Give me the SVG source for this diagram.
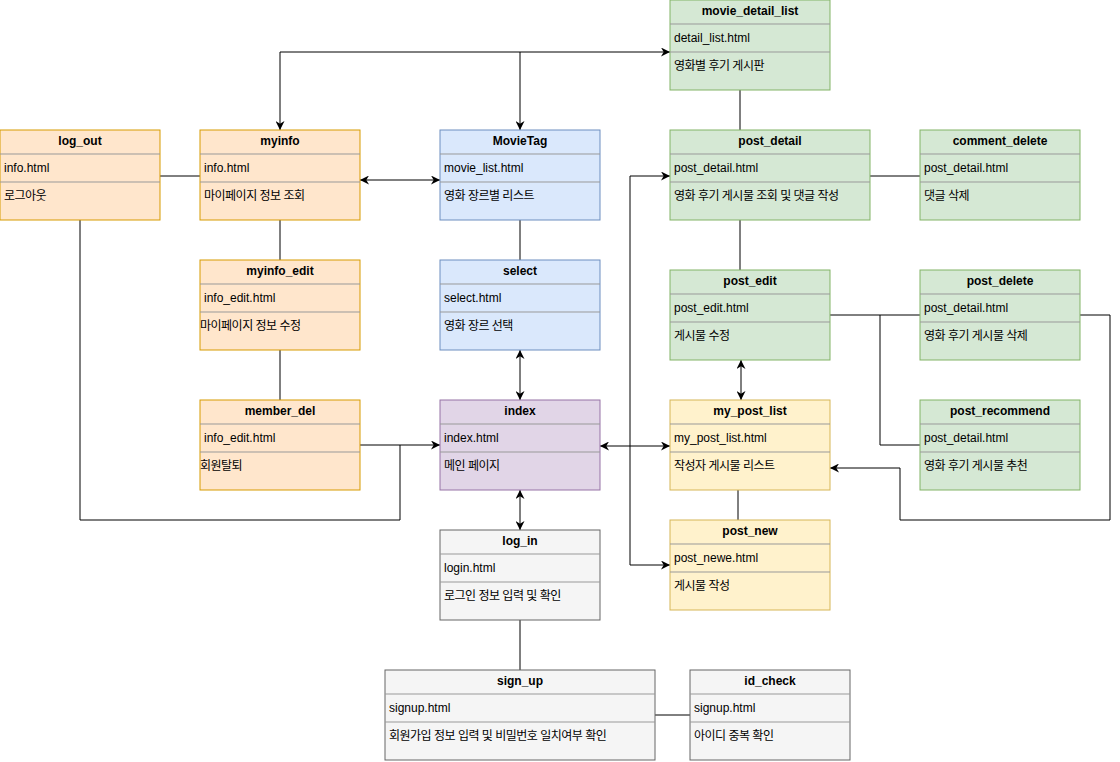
<svg xmlns="http://www.w3.org/2000/svg" width="1120" height="762" viewBox="0 0 1120 762">
<style>
.box{stroke-width:1}
.o{fill:#ffe6cc;stroke:#d79b00}
.b{fill:#dae8fc;stroke:#6c8ebf}
.g{fill:#d5e8d4;stroke:#82b366}
.p{fill:#e1d5e7;stroke:#9673a6}
.y{fill:#fff2cc;stroke:#d6b656}
.s{fill:#f5f5f5;stroke:#666666}
.sep{stroke:#999999;stroke-width:1}
text{font-family:"Liberation Sans","Noto Sans CJK KR",sans-serif;font-size:12px;fill:#000}
.t{font-weight:bold;text-anchor:middle}
.k{letter-spacing:-0.5px}
.c{fill:none;stroke:#000;stroke-width:1}
</style>
<defs>
<marker id="ah" viewBox="0 0 10 10" refX="10" refY="5" markerWidth="9" markerHeight="9" markerUnits="userSpaceOnUse" orient="auto-start-reverse">
<path d="M0,0 L10,5 L0,10 L3,5 z" fill="#000"/>
</marker>
</defs>
<rect width="1120" height="762" fill="#fff"/>
<g id="connectors">
<path class="c" d="M280,130 V52 H670" marker-start="url(#ah)" marker-end="url(#ah)"/>
<path class="c" d="M520,52 V130" marker-end="url(#ah)"/>
<path class="c" d="M160,176 H200"/>
<path class="c" d="M360,180 H440" marker-start="url(#ah)" marker-end="url(#ah)"/>
<path class="c" d="M280,220 V260"/>
<path class="c" d="M280,350 V400"/>
<path class="c" d="M520,220 V260"/>
<path class="c" d="M520,350 V400" marker-start="url(#ah)" marker-end="url(#ah)"/>
<path class="c" d="M360,445 H440" marker-end="url(#ah)"/>
<path class="c" d="M80,220 V520 H400 V445"/>
<path class="c" d="M600,446 H670" marker-start="url(#ah)" marker-end="url(#ah)"/>
<path class="c" d="M670,176 H630 V565 H670" marker-start="url(#ah)" marker-end="url(#ah)"/>
<path class="c" d="M520,490 V530" marker-start="url(#ah)" marker-end="url(#ah)"/>
<path class="c" d="M520,620 V670"/>
<path class="c" d="M655,715 H690"/>
<path class="c" d="M740,90 V130"/>
<path class="c" d="M870,176 H920"/>
<path class="c" d="M740,220 V270"/>
<path class="c" d="M741,360 V400" marker-start="url(#ah)" marker-end="url(#ah)"/>
<path class="c" d="M830,315 H920"/>
<path class="c" d="M880,315 V445 H920"/>
<path class="c" d="M1080,315 H1110 V520 H900 V468 H830" marker-end="url(#ah)"/>
<path class="c" d="M738,490 V520"/>
</g>
<g id="log_out"><rect class="box o" x="0" y="130" width="160" height="90"/><line class="sep" x1="0" y1="154" x2="160" y2="154"/><line class="sep" x1="0" y1="182" x2="160" y2="182"/><text class="t" x="80" y="145">log_out</text><text x="4" y="172">info.html</text><text class="k" x="4" y="200">로그아웃</text></g>
<g id="myinfo"><rect class="box o" x="200" y="130" width="160" height="90"/><line class="sep" x1="200" y1="154" x2="360" y2="154"/><line class="sep" x1="200" y1="182" x2="360" y2="182"/><text class="t" x="280" y="145">myinfo</text><text x="204" y="172">info.html</text><text class="k" x="204" y="200">마이페이지 정보 조회</text></g>
<g id="MovieTag"><rect class="box b" x="440" y="130" width="160" height="90"/><line class="sep" x1="440" y1="154" x2="600" y2="154"/><line class="sep" x1="440" y1="182" x2="600" y2="182"/><text class="t" x="520" y="145">MovieTag</text><text x="444" y="172">movie_list.html</text><text class="k" x="444" y="200">영화 장르별 리스트</text></g>
<g id="movie_detail_list"><rect class="box g" x="670" y="0" width="160" height="90"/><line class="sep" x1="670" y1="24" x2="830" y2="24"/><line class="sep" x1="670" y1="52" x2="830" y2="52"/><text class="t" x="750" y="15">movie_detail_list</text><text x="674" y="42">detail_list.html</text><text class="k" x="674" y="70">영화별 후기 게시판</text></g>
<g id="post_detail"><rect class="box g" x="670" y="130" width="200" height="90"/><line class="sep" x1="670" y1="154" x2="870" y2="154"/><line class="sep" x1="670" y1="182" x2="870" y2="182"/><text class="t" x="770" y="145">post_detail</text><text x="674" y="172">post_detail.html</text><text class="k" x="674" y="200">영화 후기 게시물 조회 및 댓글 작성</text></g>
<g id="comment_delete"><rect class="box g" x="920" y="130" width="160" height="90"/><line class="sep" x1="920" y1="154" x2="1080" y2="154"/><line class="sep" x1="920" y1="182" x2="1080" y2="182"/><text class="t" x="1000" y="145">comment_delete</text><text x="924" y="172">post_detail.html</text><text class="k" x="924" y="200">댓글 삭제</text></g>
<g id="myinfo_edit"><rect class="box o" x="200" y="260" width="160" height="90"/><line class="sep" x1="200" y1="284" x2="360" y2="284"/><line class="sep" x1="200" y1="312" x2="360" y2="312"/><text class="t" x="280" y="275">myinfo_edit</text><text x="204" y="302">info_edit.html</text><text class="k" x="200" y="330">마이페이지 정보 수정</text></g>
<g id="select"><rect class="box b" x="440" y="260" width="160" height="90"/><line class="sep" x1="440" y1="284" x2="600" y2="284"/><line class="sep" x1="440" y1="312" x2="600" y2="312"/><text class="t" x="520" y="275">select</text><text x="444" y="302">select.html</text><text class="k" x="444" y="330">영화 장르 선택</text></g>
<g id="post_edit"><rect class="box g" x="670" y="270" width="160" height="90"/><line class="sep" x1="670" y1="294" x2="830" y2="294"/><line class="sep" x1="670" y1="322" x2="830" y2="322"/><text class="t" x="750" y="285">post_edit</text><text x="674" y="312">post_edit.html</text><text class="k" x="674" y="340">게시물 수정</text></g>
<g id="post_delete"><rect class="box g" x="920" y="270" width="160" height="90"/><line class="sep" x1="920" y1="294" x2="1080" y2="294"/><line class="sep" x1="920" y1="322" x2="1080" y2="322"/><text class="t" x="1000" y="285">post_delete</text><text x="924" y="312">post_detail.html</text><text class="k" x="924" y="340">영화 후기 게시물 삭제</text></g>
<g id="member_del"><rect class="box o" x="200" y="400" width="160" height="90"/><line class="sep" x1="200" y1="424" x2="360" y2="424"/><line class="sep" x1="200" y1="452" x2="360" y2="452"/><text class="t" x="280" y="415">member_del</text><text x="204" y="442">info_edit.html</text><text class="k" x="200" y="470">회원탈퇴</text></g>
<g id="index"><rect class="box p" x="440" y="400" width="160" height="90"/><line class="sep" x1="440" y1="424" x2="600" y2="424"/><line class="sep" x1="440" y1="452" x2="600" y2="452"/><text class="t" x="520" y="415">index</text><text x="444" y="442">index.html</text><text class="k" x="444" y="470">메인 페이지</text></g>
<g id="my_post_list"><rect class="box y" x="670" y="400" width="160" height="90"/><line class="sep" x1="670" y1="424" x2="830" y2="424"/><line class="sep" x1="670" y1="452" x2="830" y2="452"/><text class="t" x="750" y="415">my_post_list</text><text x="674" y="442">my_post_list.html</text><text class="k" x="674" y="470">작성자 게시물 리스트</text></g>
<g id="post_recommend"><rect class="box g" x="920" y="400" width="160" height="90"/><line class="sep" x1="920" y1="424" x2="1080" y2="424"/><line class="sep" x1="920" y1="452" x2="1080" y2="452"/><text class="t" x="1000" y="415">post_recommend</text><text x="924" y="442">post_detail.html</text><text class="k" x="924" y="470">영화 후기 게시물 추천</text></g>
<g id="log_in"><rect class="box s" x="440" y="530" width="160" height="90"/><line class="sep" x1="440" y1="554" x2="600" y2="554"/><line class="sep" x1="440" y1="582" x2="600" y2="582"/><text class="t" x="520" y="545">log_in</text><text x="444" y="572">login.html</text><text class="k" x="444" y="600">로그인 정보 입력 및 확인</text></g>
<g id="post_new"><rect class="box y" x="670" y="520" width="160" height="90"/><line class="sep" x1="670" y1="544" x2="830" y2="544"/><line class="sep" x1="670" y1="572" x2="830" y2="572"/><text class="t" x="750" y="535">post_new</text><text x="674" y="562">post_newe.html</text><text class="k" x="674" y="590">게시물 작성</text></g>
<g id="sign_up"><rect class="box s" x="385" y="670" width="270" height="90"/><line class="sep" x1="385" y1="694" x2="655" y2="694"/><line class="sep" x1="385" y1="722" x2="655" y2="722"/><text class="t" x="520" y="685">sign_up</text><text x="389" y="712">signup.html</text><text class="k" x="389" y="740">회원가입 정보 입력 및 비밀번호 일치여부 확인</text></g>
<g id="id_check"><rect class="box s" x="690" y="670" width="160" height="90"/><line class="sep" x1="690" y1="694" x2="850" y2="694"/><line class="sep" x1="690" y1="722" x2="850" y2="722"/><text class="t" x="770" y="685">id_check</text><text x="694" y="712">signup.html</text><text class="k" x="694" y="740">아이디 중복 확인</text></g>
</svg>
